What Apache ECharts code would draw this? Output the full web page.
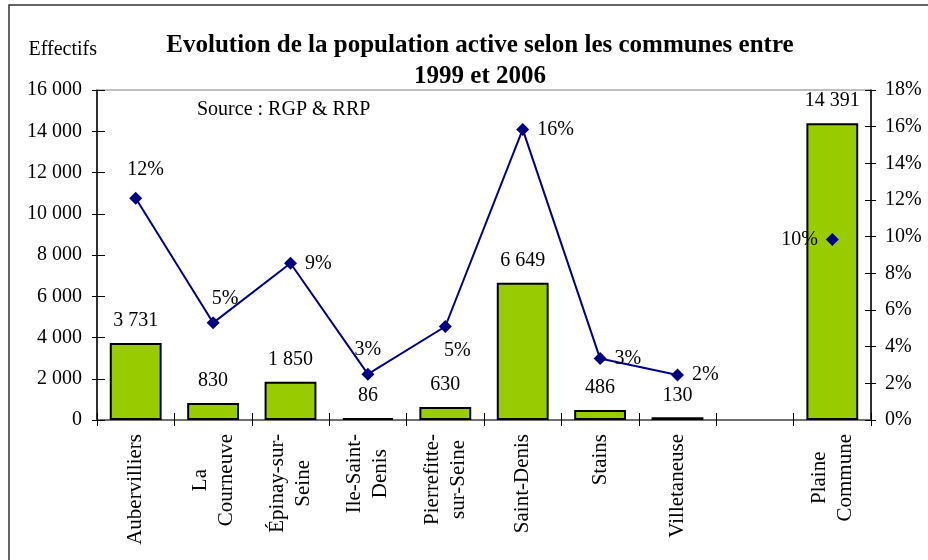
<!DOCTYPE html>
<html>
<head>
<meta charset="utf-8">
<script src="https://cdn.jsdelivr.net/npm/echarts@6/dist/echarts.min.js"></script>
<style>
  html, body { margin: 0; padding: 0; background: #fff; }
  #chart { width: 928px; height: 560px; }
</style>
</head>
<body>
<div id="chart"></div>
<script>
// communes (empty slot before the total, as in the original sheet)
var categories = ['Aubervilliers', 'La\nCourneuve', 'Épinay-sur-\nSeine', 'Ile-Saint-\nDenis',
  'Pierrefitte-\nsur-Seine', 'Saint-Denis', 'Stains', 'Villetaneuse', '', 'Plaine\nCommune']
// effectifs
var effectifs = [3731, 830, 1850, 86, 630, 6649, 486, 130, null, 14391]
// evolution 1999-2006 (%)
var evolution = [12.1, 5.3, 8.55, 2.5, 5.1, 15.85, 3.35, 2.45, null, 9.85]

var leftTicks = { min: 0, max: 16000, interval: 2000 }
var rightTicks = { min: 0, max: 18, interval: 2 }

// label placement for the % line
var evoLabelPos = ['top', 'top', 'right', 'top', 'bottom', 'right', 'right', 'right', 'right', 'left']
var evoLabelShift = [[10, -4], [12, 0], [0, 0], [0, 0], [12, 0], [0, 0], [0, 0], [0, 0], [0, 0], [0, 0]]

var serif = 'Liberation Serif'

function fmt(v) {
  return String(v).replace(/\B(?=(\d{3})+(?!\d))/g, ' ')
}

var chart = echarts.init(document.getElementById('chart'))

var tickOnly = { show: false }

chart.setOption({
  animation: false,
  title: {
    text: 'Evolution de la population active selon les communes entre\n1999 et 2006',
    left: 475,
    top: 25,
    textAlign: 'center',
    textStyle: {
      fontFamily: serif,
      fontWeight: 'bold',
      fontSize: 25,
      lineHeight: 31,
      color: '#000'
    }
  },
  graphic: [
    {
      type: 'rect',
      shape: { x: 9, y: 5, width: 1000, height: 1000 },
      style: { fill: 'none', stroke: '#333', lineWidth: 1.5 },
      silent: true
    },
    {
      type: 'text',
      left: 197,
      top: 100,
      style: { text: 'Source : RGP & RRP', font: '20px "Liberation Serif"', fill: '#000' }
    }
  ],
  grid: {
    left: 97,
    right: 57,
    top: 90,
    bottom: 140,
    show: true,
    borderColor: '#808080',
    borderWidth: 1
  },
  xAxis: [{
    type: 'category',
    data: categories,
    axisLine: { lineStyle: { color: '#555', width: 1.5 } },
    axisTick: { show: true, interval: 0, length: 6, lineStyle: { color: '#000' } },
    axisLabel: {
      interval: 0,
      rotate: 90,
      margin: 14,
      color: '#000',
      fontFamily: serif,
      fontSize: 21,
      formatter: function (v) {
        return v.split('\n').map(function (s) { return '{c|' + s + '}' }).join('\n')
      },
      rich: {
        c: { align: 'center', fontFamily: serif, fontSize: 21, color: '#000', lineHeight: 26 }
      }
    }
  }, {
    type: 'category',
    data: categories,
    position: 'bottom',
    axisLine: tickOnly,
    axisLabel: tickOnly,
    axisTick: { show: true, inside: true, interval: 0, length: 7, lineStyle: { color: '#000' } }
  }],
  yAxis: [{
    type: 'value',
    position: 'left',
    min: leftTicks.min,
    max: leftTicks.max,
    interval: leftTicks.interval,
    name: 'Effectifs',
    nameLocation: 'end',
    nameGap: 30,
    nameTextStyle: { fontFamily: serif, fontSize: 20, color: '#000', align: 'right' },
    splitLine: { show: false },
    axisLine: { show: true, lineStyle: { color: '#000', width: 1.5 } },
    axisTick: { show: true, length: 5, lineStyle: { color: '#000' } },
    axisLabel: {
      margin: 15,
      color: '#000',
      fontFamily: serif,
      fontSize: 20,
      formatter: fmt
    }
  }, {
    type: 'value',
    position: 'right',
    min: rightTicks.min,
    max: rightTicks.max,
    interval: rightTicks.interval,
    splitLine: { show: false },
    axisLine: { show: true, lineStyle: { color: '#000', width: 1.5 } },
    axisTick: { show: true, length: 5, lineStyle: { color: '#000' } },
    axisLabel: {
      margin: 14,
      color: '#000',
      fontFamily: serif,
      fontSize: 20,
      formatter: '{value}%'
    }
  }, {
    // inner half of the crossing ticks
    type: 'value',
    position: 'left',
    min: leftTicks.min,
    max: leftTicks.max,
    interval: leftTicks.interval,
    splitLine: tickOnly,
    axisLine: tickOnly,
    axisLabel: tickOnly,
    axisTick: { show: true, inside: true, length: 8, lineStyle: { color: '#000' } }
  }, {
    type: 'value',
    position: 'right',
    min: rightTicks.min,
    max: rightTicks.max,
    interval: rightTicks.interval,
    splitLine: tickOnly,
    axisLine: tickOnly,
    axisLabel: tickOnly,
    axisTick: { show: true, inside: true, length: 6, lineStyle: { color: '#000' } }
  }],
  series: [{
    name: 'Effectifs',
    type: 'bar',
    data: effectifs,
    barWidth: '67%',
    itemStyle: { color: '#99CC00', borderColor: '#000', borderWidth: 2 },
    label: {
      show: true,
      position: 'top',
      distance: 12,
      color: '#000',
      fontFamily: serif,
      fontSize: 20,
      formatter: function (p) { return fmt(p.value) }
    }
  }, {
    name: 'Evolution',
    type: 'line',
    yAxisIndex: 1,
    data: evolution.map(function (v, i) {
      return { value: v, label: { position: evoLabelPos[i], offset: evoLabelShift[i] } }
    }),
    symbol: 'diamond',
    symbolSize: 13,
    lineStyle: { color: '#000080', width: 2 },
    itemStyle: { color: '#000080' },
    label: {
      show: true,
      distance: 8,
      color: '#000',
      fontFamily: serif,
      fontSize: 20,
      formatter: function (p) { return Math.round(p.value) + '%' }
    }
  }]
})
</script>
</body>
</html>
